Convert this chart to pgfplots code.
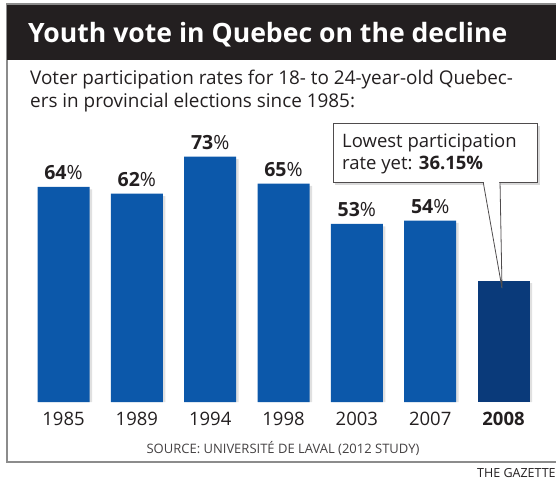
\documentclass[border=0pt]{standalone}
\usepackage{pgfplots}
\pgfplotsset{compat=1.18}
\usepackage{fontspec}
\setmainfont{Open Sans}
\definecolor{barblue}{RGB}{12,88,170}
\definecolor{bardark}{RGB}{10,58,122}
\definecolor{ink}{RGB}{35,31,32}
\definecolor{framec}{RGB}{140,140,140}
\begin{document}
\begin{tikzpicture}
\path[use as bounding box] (0,0) rectangle (556pt,480pt);
\begin{scope}[x=1pt,y=-1pt,shift={(0pt,480pt)}]
  \draw[framec, line width=1.2pt] (7,4) rectangle (575,462);
  \fill[ink] (7,5) rectangle (575,60);
  \node[anchor=base west, text=white, font=\fontsize{26.6}{30}\selectfont\bfseries, inner sep=0] at (28,43) {Youth vote in Quebec on the decline};
  \node[anchor=base west, text=ink, font=\fontsize{18.9}{22}\selectfont, inner sep=0] at (30,85) {Voter participation rates for 18- to 24-year-old Quebec-};
  \node[anchor=base west, text=ink, font=\fontsize{18.9}{22}\selectfont, inner sep=0] at (30,108) {ers in provincial elections since 1985:};
  \node[anchor=base, text=ink!85, font=\fontsize{13}{16}\selectfont, inner sep=0] at (283,453) {SOURCE: UNIVERSITÉ DE LAVAL (2012 STUDY)};
  \node[anchor=base west, text=ink, font=\fontsize{12.5}{14}\selectfont, inner sep=0] at (477,477) {THE GAZETTE};
\end{scope}
\begin{axis}[
  at={(0pt,78pt)}, anchor=south west,
  scale only axis, width=556pt, height=397pt,
  xmin=-0.866, xmax=6.716, ymin=0, ymax=118.15,
  clip=false,
  axis line style={draw=none},
  major tick length=0pt,
  ytick=\empty,
  xtick={0,1,2,3,4,5,6},
  xticklabels={1985,1989,1994,1998,2003,2007,\textbf{2008}},
  xticklabel style={font=\fontsize{18.5}{22}\selectfont, text=ink, yshift=-7pt},
  /pgf/number format/assume math mode=true,
  ybar, bar width=52pt,
]
\addplot[fill=black, fill opacity=0.12, draw=none, bar shift=2.5pt] coordinates
  {(0,63.3) (1,61.3) (2,72.3) (3,64.3) (4,52.3) (5,53.3) (6,35.4)};
\addplot[fill=barblue, draw=none, bar shift=0pt,
  point meta=explicit symbolic,
  nodes near coords={\textbf{\pgfplotspointmeta}\%},
  nodes near coords style={font=\fontsize{19.5}{22}\selectfont, text=ink, anchor=south, yshift=3.5pt}]
  table[meta=lab] {
x y lab
0 64 64
1 62 62
2 73 73
3 65 65
4 53 53
5 54 54
};
\addplot[fill=bardark, draw=none, bar shift=0pt] coordinates {(6,36.15)};
\end{axis}
\begin{scope}[x=1pt,y=-1pt,shift={(0pt,480pt)}]
  \fill[black, opacity=0.15] (335,126) rectangle (540,185);
  \filldraw[fill=white, draw=ink!80, line width=0.8pt] (483,181) -- (502,288) -- (500,181);
  \draw[fill=white, draw=ink!80, line width=0.8pt] (333,123) rectangle (537,182);
  \fill[white] (483.8,181) -- (499.2,181) -- (499.2,183.5) -- (484.2,183.5) -- cycle;
  \node[anchor=base west, text=ink, font=\fontsize{18.5}{22}\selectfont, inner sep=0] at (342,148) {Lowest participation};
  \node[anchor=base west, text=ink, font=\fontsize{18.5}{22}\selectfont, inner sep=0] at (342,170) {rate yet: \textbf{36.15\%}};
\end{scope}
\end{tikzpicture}
\end{document}
